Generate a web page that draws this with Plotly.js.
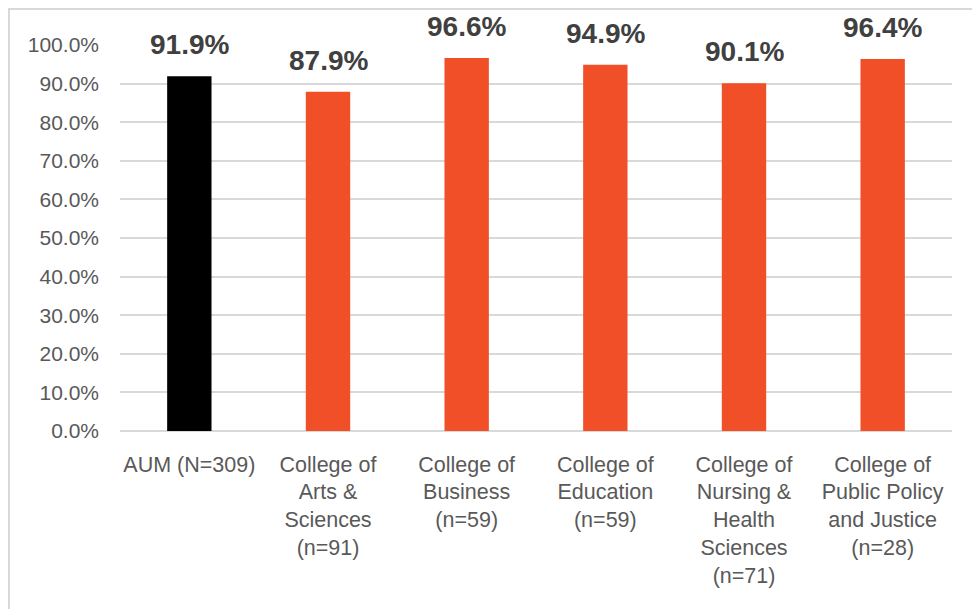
<!DOCTYPE html>
<html>
<head>
<meta charset="utf-8">
<script src="https://cdn.plot.ly/plotly-3.0.1.min.js"></script>
<style>
html,body{margin:0;padding:0;background:#fff;}
#frame{position:absolute;left:8px;top:8px;width:980px;height:620px;border:2px solid #d9d9d9;box-sizing:border-box;}
#chart{position:absolute;left:0;top:0;width:972px;height:609px;}
</style>
</head>
<body>
<div id="frame"></div>
<div id="chart"></div>
<script>
const categories = [
  "AUM (N=309)",
  "College of<br>Arts &<br>Sciences<br>(n=91)",
  "College of<br>Business<br>(n=59)",
  "College of<br>Education<br>(n=59)",
  "College of<br>Nursing &<br>Health<br>Sciences<br>(n=71)",
  "College of<br>Public Policy<br>and Justice<br>(n=28)"
];
const values = [91.9, 87.9, 96.6, 94.9, 90.1, 96.4];
const barColors = ["#000000", "#f04f28", "#f04f28", "#f04f28", "#f04f28", "#f04f28"];
const tickVals = [0, 10, 20, 30, 40, 50, 60, 70, 80, 90, 100];
const tickText = tickVals.map(v => v.toFixed(1) + "%");

const trace = {
  type: "bar",
  x: categories,
  y: values,
  marker: {color: barColors},
  hoverinfo: "none"
};

const annotations = values.map((v, i) => ({
  x: categories[i],
  y: v,
  xref: "x",
  yref: "y",
  text: v.toFixed(1) + "%",
  showarrow: false,
  yanchor: "bottom",
  yshift: 14,
  font: {family: "Liberation Sans, Arial, sans-serif", size: 28, color: "#404040", weight: "bold"}
}));

const layout = {
  width: 972,
  height: 609,
  margin: {l: 120, r: 20, t: 45, b: 178},
  paper_bgcolor: "rgba(0,0,0,0)",
  plot_bgcolor: "rgba(0,0,0,0)",
  bargap: 0.68,
  showlegend: false,
  font: {family: "Liberation Sans, Arial, sans-serif", size: 21, color: "#595959"},
  xaxis: {
    type: "category",
    showgrid: false,
    showline: false,
    ticks: "",
    tickfont: {size: 21.5, color: "#595959"},
    tickangle: 0,
    ticklabelstandoff: 18,
    automargin: false
  },
  yaxis: {
    range: [0, 100],
    tickvals: tickVals,
    ticktext: tickText,
    showgrid: true,
    gridcolor: "#d9d9d9",
    gridwidth: 2,
    zeroline: true,
    zerolinecolor: "#d9d9d9",
    zerolinewidth: 2,
    showline: false,
    ticks: "",
    ticklabelstandoff: 20,
    tickfont: {size: 21, color: "#595959"},
    automargin: false
  },
  annotations: annotations
};

Plotly.newPlot("chart", [trace], layout, {displayModeBar: false, staticPlot: true});
</script>
</body>
</html>
